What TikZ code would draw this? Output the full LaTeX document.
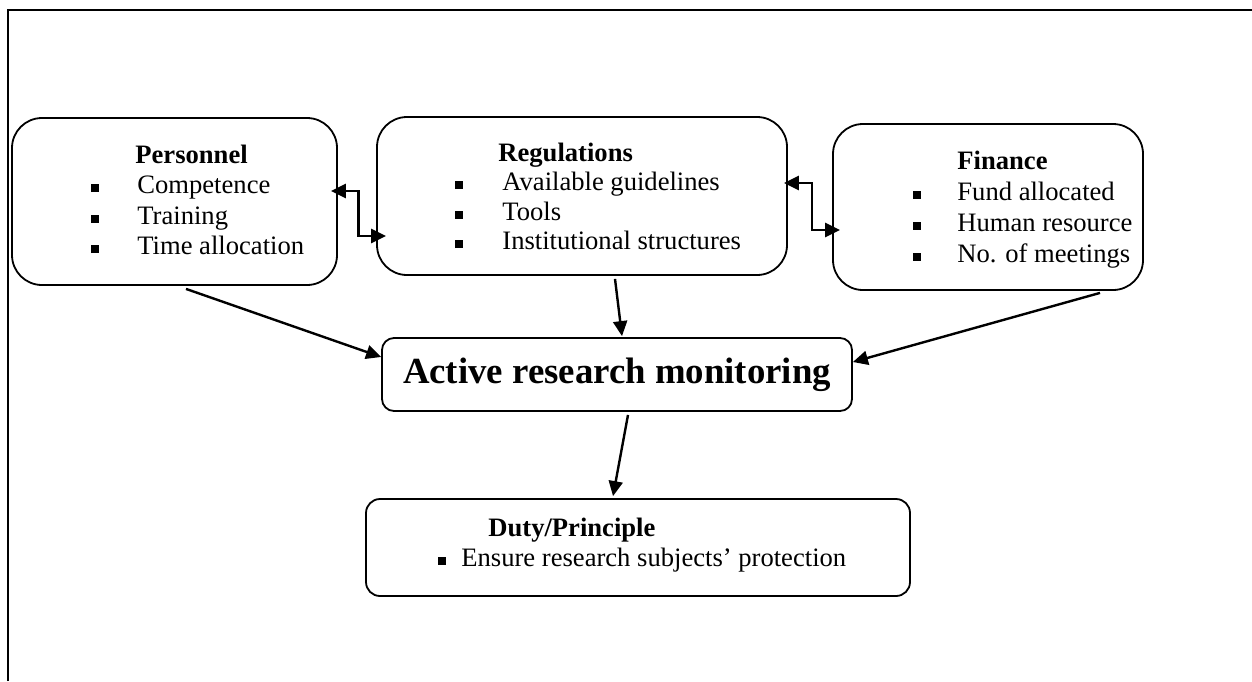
\documentclass[tikz,border=0pt]{standalone}
\usepackage{fontspec}
\setmainfont{Liberation Serif}
\usetikzlibrary{arrows.meta,calc}
% small filled square used as list bullet
\newcommand{\sqbullet}{\rule[0.7pt]{4pt}{4pt}}
\newcommand{\bul}[1]{\llap{\sqbullet\hspace{#1}}}
\begin{document}
\begin{tikzpicture}[x=0.5pt,y=-0.5pt,
  frame/.style={line width=1.4pt},
  box/.style={draw,line width=0.9pt,inner sep=0pt},
  head/.style={anchor=base west,inner sep=0pt,font=\fontsize{13.3}{16}\selectfont\bfseries},
  entry/.style={anchor=base west,inner sep=0pt,font=\fontsize{13.3}{16}\selectfont},
  tip/.tip={Triangle[length=7.5pt,width=7pt]},
  link/.style={line width=1.2pt,-tip},
  dbl/.style={line width=1.2pt,tip-tip}]
\useasboundingbox (0,0) rectangle (1252,681);

% outer frame (open towards right and bottom)
\draw[frame] (8,681) -- (8,10) -- (1252,10);

% boxes
\node[box,rounded corners=15pt,minimum width=162.5pt,minimum height=83.5pt] (pers) at (174.5,201.5) {};
\node[box,rounded corners=15pt,minimum width=205pt,minimum height=79pt] (reg) at (582,196) {};
\node[box,rounded corners=15pt,minimum width=155pt,minimum height=83pt] (fin) at (988,207) {};
\node[box,rounded corners=6pt,minimum width=235pt,minimum height=36.5pt,
      font=\fontsize{18.4}{22}\selectfont\bfseries] (act) at (617,374.5) {Active research monitoring};
\node[box,rounded corners=7pt,minimum width=272pt,minimum height=48.5pt] (duty) at (638,547.5) {};

% Personnel
\node[head] (pers-h) at (135,163) {Personnel};
\foreach \t [count=\i] in {Competence,Training,Time allocation}
  \node[entry] (pers-\i) at (137,{193.5+30.5*(\i-1)}) {\bul{19pt}\t};

% Regulations
\node[head] (reg-h) at (498,161.5) {Regulations};
\foreach \t [count=\i] in {Available guidelines,Tools,Institutional structures}
  \node[entry] (reg-\i) at (502,{190.5+29.5*(\i-1)}) {\bul{19.5pt}\t};

% Finance
\node[head] (fin-h) at (957,169.5) {Finance};
\foreach \t [count=\i] in {Fund allocated,Human resource,No. of meetings}
  \node[entry] (fin-\i) at (957,{200+31*(\i-1)}) {\bul{18pt}\t};

% Duty/Principle
\node[head] (duty-h) at (488,536) {Duty/Principle};
\node[entry] (duty-1) at (461,566) {\bul{7.5pt}Ensure research subjects’ protection};

% two-way elbow links between the upper boxes
\coordinate (pr1) at ($(pers.east)+(-7,-10.5)$);
\coordinate (pr2) at ($(reg.west)+(10,40)$);
\draw[dbl] (pr1) -| ($(pr1)!0.5!(pr2)$) |- (pr2);
\coordinate (rf1) at ($(reg.east)+(-4,-13)$);
\coordinate (rf2) at ($(fin.west)+(8,23)$);
\draw[dbl] (rf1) -| ($(rf1)!0.5!(rf2)$) |- (rf2);

% links into and out of the monitoring box
\draw[link] ($(pers.south)+(11.5,3)$) -- ($(act.west)+(0,-17.5)$);
\draw[link] ($(reg.south)+(33,3)$) -- ($(act.north)+(5,-1)$);
\draw[link] ($(fin.south)+(112,2)$) -- ($(act.east)+(0,-12.5)$);
\draw[link] ($(act.south)+(11,3)$) -- ($(duty.north)+(-25,-2)$);
\end{tikzpicture}
\end{document}
